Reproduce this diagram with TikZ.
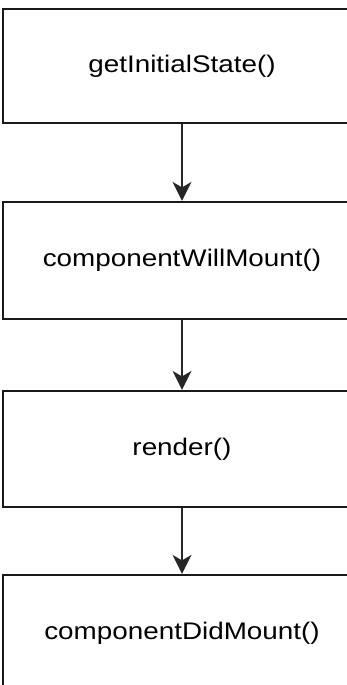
\documentclass[tikz,border=0pt]{standalone}
\usepackage{fontspec}
\setmainfont{Liberation Sans}
\usetikzlibrary{arrows.meta}
\begin{document}
\begin{tikzpicture}[x=1pt,y=1pt,
  stagebox/.style={draw=black!90, line width=2.2pt, rectangle, minimum width=358pt, inner sep=0pt,
    font=\fontsize{24}{28}\selectfont},
  flowarrow/.style={draw=black!85, line width=1.7pt, -{Stealth[length=19pt,width=19pt,inset=5.5pt]}}
]
\useasboundingbox (0,0) rectangle (347,-685);
\clip (0,0) rectangle (347,-685);
\node[stagebox, minimum height=114pt] (b1) at (182,-66) {\scalebox{1.16}[1]{getInitialState()}};
\node[stagebox, minimum height=117pt] (b2) at (182,-260.5) {\scalebox{1.16}[1]{componentWillMount()}};
\node[stagebox, minimum height=116pt] (b3) at (182,-449) {\scalebox{1.16}[1]{render()}};
\node[stagebox, minimum height=116pt] (b4) at (182,-633) {\scalebox{1.16}[1]{componentDidMount()}};
\draw[flowarrow] (b1.south) -- (b2.north);
\draw[flowarrow] (b2.south) -- (b3.north);
\draw[flowarrow] (b3.south) -- (b4.north);
\end{tikzpicture}
\end{document}
